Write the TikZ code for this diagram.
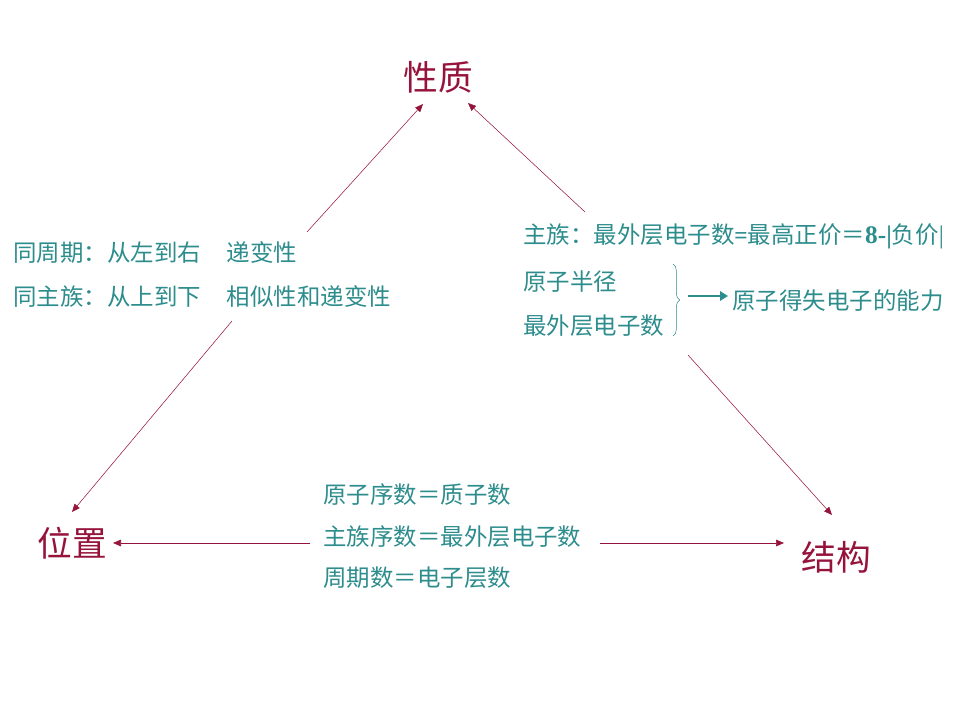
\documentclass[tikz,border=0pt]{standalone}
\usepackage{fontspec}
\setmainfont{Liberation Serif}
\newfontfamily\cjk{Noto Sans CJK SC}
\usepackage{tikz}
\usetikzlibrary{arrows.meta}
\usetikzlibrary{decorations.pathreplacing}
\definecolor{wine}{RGB}{150,20,60}
\definecolor{sea}{RGB}{45,140,140}
\tikzset{
    topic/.style={text=wine, font=\cjk\fontsize{26}{30}\selectfont, inner sep=0pt},
    note/.style={text=sea, font=\cjk\fontsize{17.6}{21}\selectfont, anchor=west, inner sep=0pt},
    link/.style={draw=wine, thin, -{Triangle[length=6pt, width=5pt]}},
}

\begin{document}
\begin{tikzpicture}[x=0.75pt, y=-0.75pt]
        \useasboundingbox (0,0) rectangle (960,720);
        % the three corners
        \node[topic] (xingzhi) at (438, 77) {性质};
        \node[topic] (weizhi) at (72, 543) {位置};
        \node[topic] (jiegou) at (836, 557) {结构};
        % left side
        \node[note] (zhouqi) at (13, 253) {同周期：从左到右\hspace{1.1em}递变性};
        \node[note] (zhuzu) at (13, 297) {同主族：从上到下\hspace{1.1em}相似性和递变性};
        % right side
        \node[note] (jia) at (523, 236) {主族：最外层电子数{\rmfamily\bfseries =}最高正价＝{\rmfamily\bfseries\fontsize{19}{21}\selectfont 8-|}负价{\rmfamily\fontsize{19}{21}\selectfont |}};
        \node[note] (banjing) at (523, 282) {原子半径};
        \node[note] (zuiwai) at (523, 326) {最外层电子数};
        \node[note] (nengli) at (732, 301) {原子得失电子的能力};
        \draw[sea, decorate, decoration={brace, amplitude=5pt}] (673, 264) -- (673, 336);
        \coordinate (kuo) at (688, 296);
        \draw[sea, line width=2.2pt, -{Triangle[length=6pt, width=7pt]}] (kuo) -- ([shift={(-4,-5)}]nengli.west);
        % bottom
        \foreach \y/\t in {495/原子序数＝质子数, 537/主族序数＝最外层电子数, 578/周期数＝电子层数}
        {
            \node[note] at (323, \y) {\t};
        }
        % connectors
        \coordinate (p1) at (307, 232);
        \coordinate (p2) at (585, 212);
        \coordinate (p3) at (232, 321);
        \coordinate (p4) at (688, 355);
        \coordinate (p5) at (310, 543);
        \coordinate (p6) at (600, 543);
        \draw[link] (p1) -- ([shift={(-15,27)}]xingzhi.center);
        \draw[link] (p2) -- ([shift={(30,26)}]xingzhi.center);
        \draw[link] (p3) -- ([shift={(0,-31)}]weizhi.center);
        \draw[link] (p4) -- ([shift={(-4,-42)}]jiegou.center);
        \draw[link] (p5) -- ([shift={(41,0)}]weizhi.center);
        \draw[link] (p6) -- ([shift={(-52,-14)}]jiegou.center);
    \end{tikzpicture}
\end{document}
